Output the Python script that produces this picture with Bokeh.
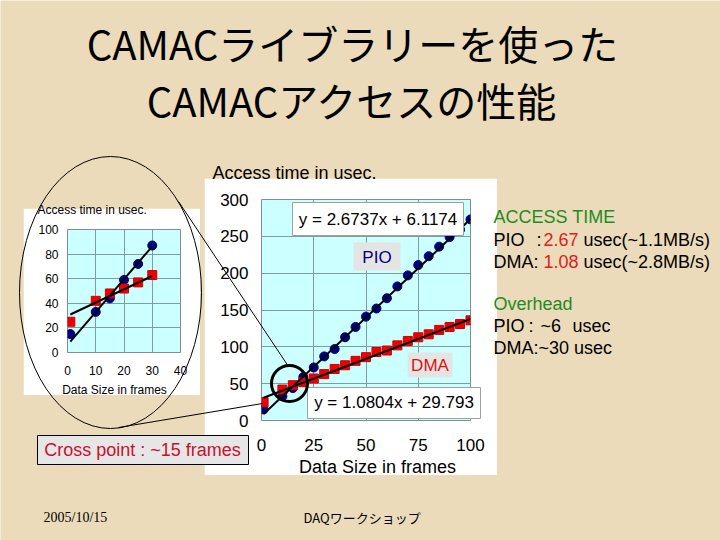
import numpy as np
from bokeh.plotting import figure
from bokeh.models import Range1d, FixedTicker, GridBox
from bokeh.core.properties import value
from bokeh.embed import file_html
from bokeh.resources import INLINE

# ---------------- data ----------------
frames = [1, 10, 15, 20, 25, 30, 35, 40, 45, 50, 55, 60, 65, 70, 75, 80, 85, 90, 95, 100]
pio_usec = [15, 33, 44, 59, 72, 87, 97, 113, 127, 141, 152, 166, 182, 197, 211, 223, 236, 249, 259, 273]
dma_usec = [25, 42, 48, 52, 57, 63, 70, 75, 81, 86, 93, 95, 102, 108, 113, 117, 123, 127, 131, 136]
inset_count = 6                      # inset shows the points up to 30 frames
pio_fit = (2.6737, 6.1174)           # slope, intercept (trend line label)
dma_fit = (1.0804, 29.793)
main_xticks = [0, 25, 50, 75, 100]
main_yticks = [0, 50, 100, 150, 200, 250, 300]
inset_xticks = [0, 10, 20, 30, 40]
inset_yticks = [0, 20, 40, 60, 80, 100]
title_lines = ["CAMACライブラリーを使った", "CAMACアクセスの性能"]
y_title = "Access time in usec."
x_title = "Data Size in frames"

OFF = 0
W, H = 720, 540
FONT = "Liberation Sans"
PIO_C = "#000080"
DMA_C = "#f00000"


def make_chart(w, h, xr, yr, xt, yt, bl, br, bt, bb, xs, ps, ds, msize, fsize, xstand, ystand):
    p = figure(width=w, height=h, x_range=Range1d(*xr), y_range=Range1d(*yr), title=None,
               output_backend="svg", toolbar_location=None,
               min_border_left=bl, min_border_right=br, min_border_top=bt, min_border_bottom=bb,
               background_fill_color="#ccffff", border_fill_color="white",
               outline_line_color="#7f8f8f")
    p.xaxis.ticker = FixedTicker(ticks=xt)
    p.yaxis.ticker = FixedTicker(ticks=yt)
    for ax in (p.xaxis[0], p.yaxis[0]):
        ax.axis_line_color = None
        ax.major_tick_line_color = None
        ax.minor_tick_line_color = None
        ax.major_tick_in = 0
        ax.major_tick_out = 0
        ax.minor_tick_in = 0
        ax.minor_tick_out = 0
        ax.major_label_text_font = FONT
        ax.major_label_text_font_size = f"{fsize}px"
        ax.major_label_text_color = "black"
    p.xaxis.major_label_standoff = xstand
    p.yaxis.major_label_standoff = ystand
    p.xgrid.grid_line_color = "#7f9f9f"
    p.ygrid.grid_line_color = "#7f9f9f"
    p.scatter(xs, ps, marker="circle", size=msize, fill_color=PIO_C, line_color=PIO_C)
    p.scatter(xs, ds, marker="square", size=msize, fill_color=DMA_C, line_color="#d00000")
    fx = [xs[0], xs[-1]]
    for a, b in (pio_fit, dma_fit):
        p.line(fx, [a * x + b for x in fx], line_color="black", line_width=2)
    return p


main = make_chart(293, 297, (0, 100), (0, 300), main_xticks, main_yticks,
                  57, 27, 21, 55, frames, pio_usec, dma_usec, 9, 17, 18, 13)
inset = make_chart(177, 187, (0, 40), (0, 100), inset_xticks, inset_yticks,
                   44, 20, 21, 43, frames[:inset_count], pio_usec[:inset_count],
                   dma_usec[:inset_count], 9, 12, 13, 9)


def base_fig(transparent):
    p = figure(width=W, height=H, x_range=Range1d(0, W), y_range=Range1d(H, 0),
               x_axis_type=None, y_axis_type=None, title=None, output_backend="svg",
               toolbar_location=None, min_border=0, outline_line_color=None)
    p.grid.visible = False
    if transparent:
        p.background_fill_color = None
        p.border_fill_color = None
    else:
        p.background_fill_color = "#ebdbba"
        p.border_fill_color = "#ebdbba"
    return p


def txt(p, x, y, s, size, color="black", align="left", font=FONT, style="normal"):
    p.text(x=[x - OFF], y=[y - OFF], text=[s], text_font=value(font),
           text_font_size=value(f"{size}px"), text_color=color, text_align=align,
           text_baseline="middle", text_font_style=style)


def box(p, l, t, r, b, fill, line):
    p.quad(left=[l - OFF], right=[r - OFF], top=[t - OFF], bottom=[b - OFF],
           fill_color=fill, line_color=line, line_width=1)


# ---------------- background slide ----------------
bg = base_fig(False)
txt(bg, 352, 42, title_lines[0], 40, align="center", font="Noto Sans CJK JP")
txt(bg, 352, 99, title_lines[1], 40, align="center", font="Noto Sans CJK JP")
txt(bg, 43, 517, "2005/10/15", 14, font="Liberation Serif")
txt(bg, 303, 517, "DAQワークショップ", 13, font="Noto Sans CJK JP")

# ---------------- overlay (annotations on top of the charts) ----------------
ov = base_fig(True)
GREEN = "#1e8c1e"
RED = "#e0201a"
txt(ov, 493, 216, "ACCESS TIME", 18, GREEN)
txt(ov, 493, 239, "PIO", 18)
txt(ov, 536, 239, ":", 18)
txt(ov, 543, 239, "2.67", 18, RED)
txt(ov, 583, 239, "usec(~1.1MB/s)", 18)
txt(ov, 493, 261, "DMA:", 18)
txt(ov, 543, 261, "1.08", 18, RED)
txt(ov, 583, 261, "usec(~2.8MB/s)", 18)
txt(ov, 493, 303, "Overhead", 18, GREEN)
txt(ov, 493, 325, "PIO", 18)
txt(ov, 528, 325, ":", 18)
txt(ov, 540, 325, "~6", 18)
txt(ov, 572, 325, "usec", 18)
txt(ov, 493, 347, "DMA:", 18)
txt(ov, 538, 347, "~30 usec", 18)

txt(ov, 212, 172, y_title, 18)
txt(ov, 37, 209, y_title, 12)
txt(ov, 377, 466, x_title, 18, align="center")
txt(ov, 114, 389, x_title, 12, align="center")
box(ov, 292, 202, 463, 235, "white", "#a0a0a0")
txt(ov, 377.5, 218.5, "y = 2.6737x + 6.1174", 17, align="center")
box(ov, 307, 387, 480, 418, "white", "#a0a0a0")
txt(ov, 393.5, 402, "y = 1.0804x + 29.793", 17, align="center")
box(ov, 353, 242, 400, 270, "#e4e4e4", None)
txt(ov, 376.5, 257, "PIO", 17, PIO_C, align="center")
box(ov, 407, 352, 452, 377, "#e4e4e4", None)
txt(ov, 429.5, 365, "DMA", 17, "#e01010", align="center")
ov.ellipse(x=[110 - OFF], y=[292 - OFF], width=[182], height=[272],
           fill_color=None, line_color="black", line_width=1)
ov.segment(x0=[178 - OFF, 118 - OFF], y0=[201 - OFF, 427 - OFF],
           x1=[288 - OFF, 262 - OFF], y1=[366 - OFF, 403 - OFF],
           line_color="black", line_width=1)
ov.circle(x=[289 - OFF], y=[383 - OFF], radius=[18], fill_color=None,
          line_color="black", line_width=3)
box(ov, 37, 435, 248, 464, "#e6e6e6", "black")
txt(ov, 142, 449.5, "Cross point : ~15 frames", 18, "#c8102e", align="center")

grid = GridBox(children=[(bg, 0, 0, 5, 5), (inset, 2, 1, 1, 1), (main, 1, 3, 3, 1), (ov, 0, 0, 5, 5)],
               rows=["178px", "30px", "187px", "80px", "65px"],
               cols=["23px", "177px", "4px", "293px", "223px"], spacing=0)

open("out.html", "w").write(file_html(grid, INLINE))
